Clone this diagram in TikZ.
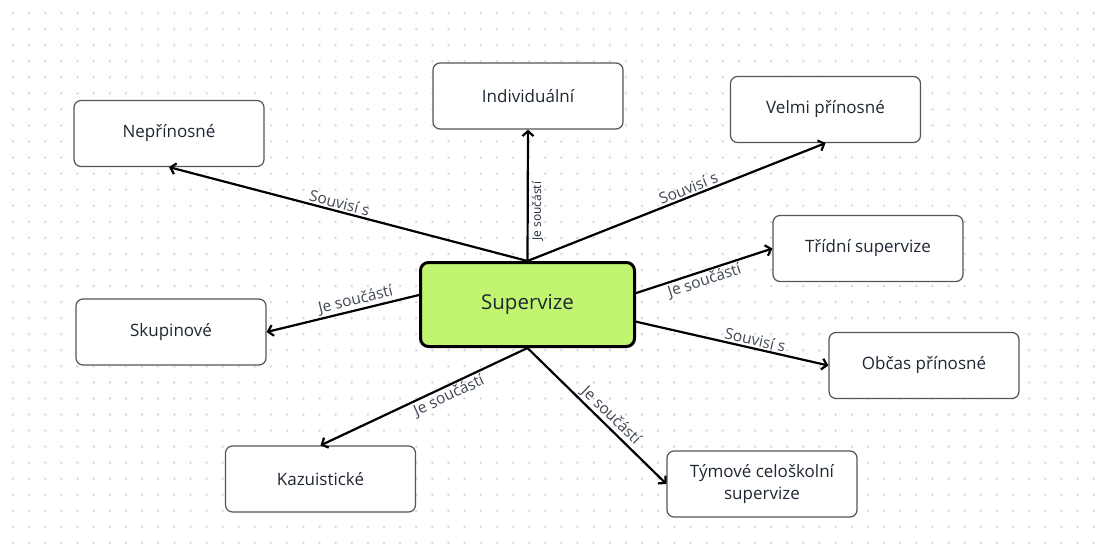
\documentclass[tikz,border=0pt]{standalone}
\usepackage{fontspec}
\setmainfont{Open Sans}
\usetikzlibrary{arrows.meta}

\definecolor{dotgray}{HTML}{D9DDE6}
\definecolor{boxline}{HTML}{555555}
\definecolor{limefill}{HTML}{C1F56F}
\definecolor{inktext}{HTML}{1E2733}

\begin{document}
\begin{tikzpicture}[x=1pt, y=-1pt,
        box/.style={draw=boxline, line width=1.2pt, rounded corners=7pt, fill=white,
            minimum width=190pt, minimum height=66pt, align=center,
            font=\fontsize{17}{22}\selectfont, text=inktext},
        mainbox/.style={draw=black, line width=3pt, rounded corners=8pt, fill=limefill,
            minimum width=214pt, minimum height=84pt,
            font=\fontsize{20.5}{25}\selectfont, text=inktext},
        conn/.style={draw=black, line width=2.2pt, -{Straight Barb[length=5pt, width=11pt]}},
        back/.style={draw=black, line width=2.2pt, {Straight Barb[length=5pt, width=11pt]}-},
        lbl/.style={sloped, inner sep=1.5pt, font=\fontsize{15.5}{18}\selectfont, text=inktext!85},
        small/.style={sloped, inner sep=3pt, font=\fontsize{12}{14}\selectfont, text=inktext}]
    \useasboundingbox (0,0) rectangle (1103,556);
    \foreach \i in {0,...,67}
        \foreach \j in {0,...,33}
            \fill [dotgray] (13+16.13*\i, 13+16.06*\j) circle [radius=1.5pt];

    \node [mainbox] (sup) at (527.5,304.5) {Supervize};
    \node [box] (ind) at (528,96) {Individuální};
    \node [box] (nep) at (169,133.5) {Nepřínosné};
    \node [box] (vel) at (825.5,109.5) {Velmi přínosné};
    \node [box] (tri) at (868,248.5) {Třídní supervize};
    \node [box] (sku) at (171,332) {Skupinové};
    \node [box] (obc) at (924,365.5) {Občas přínosné};
    \node [box] (kaz) at (320.5,479) {Kazuistické};
    \node [box] (tym) at (762,484) {Týmové celoškolní\\supervize};

    \draw [conn] (sup.north) -- node [small, pos=.38, below] {Je součástí} (ind.south);
    \draw [back] (nep.south) -- node [lbl, pos=.47, above] {Souvisí s} (sup.north);
    \draw [conn] (sup.north) -- node [lbl, pos=.55, above] {Souvisí s} (vel.south);
    \draw [conn] (sup.6.6) -- node [lbl, pos=.48, below] {Je součástí} (tri.west);
    \draw [back] (sku.east) -- node [lbl, pos=.6, above] {Je součástí} (sup.175);
    \draw [conn] (sup.-9.7) -- node [lbl, pos=.61, above] {Souvisí s} (obc.west);
    \draw [back] (kaz.north) -- node [lbl, pos=.6, below] {Je součástí} (sup.south);
    \draw [conn] (sup.south) -- node [lbl, pos=.55, above] {Je součástí} (tym.west);
\end{tikzpicture}
\end{document}
